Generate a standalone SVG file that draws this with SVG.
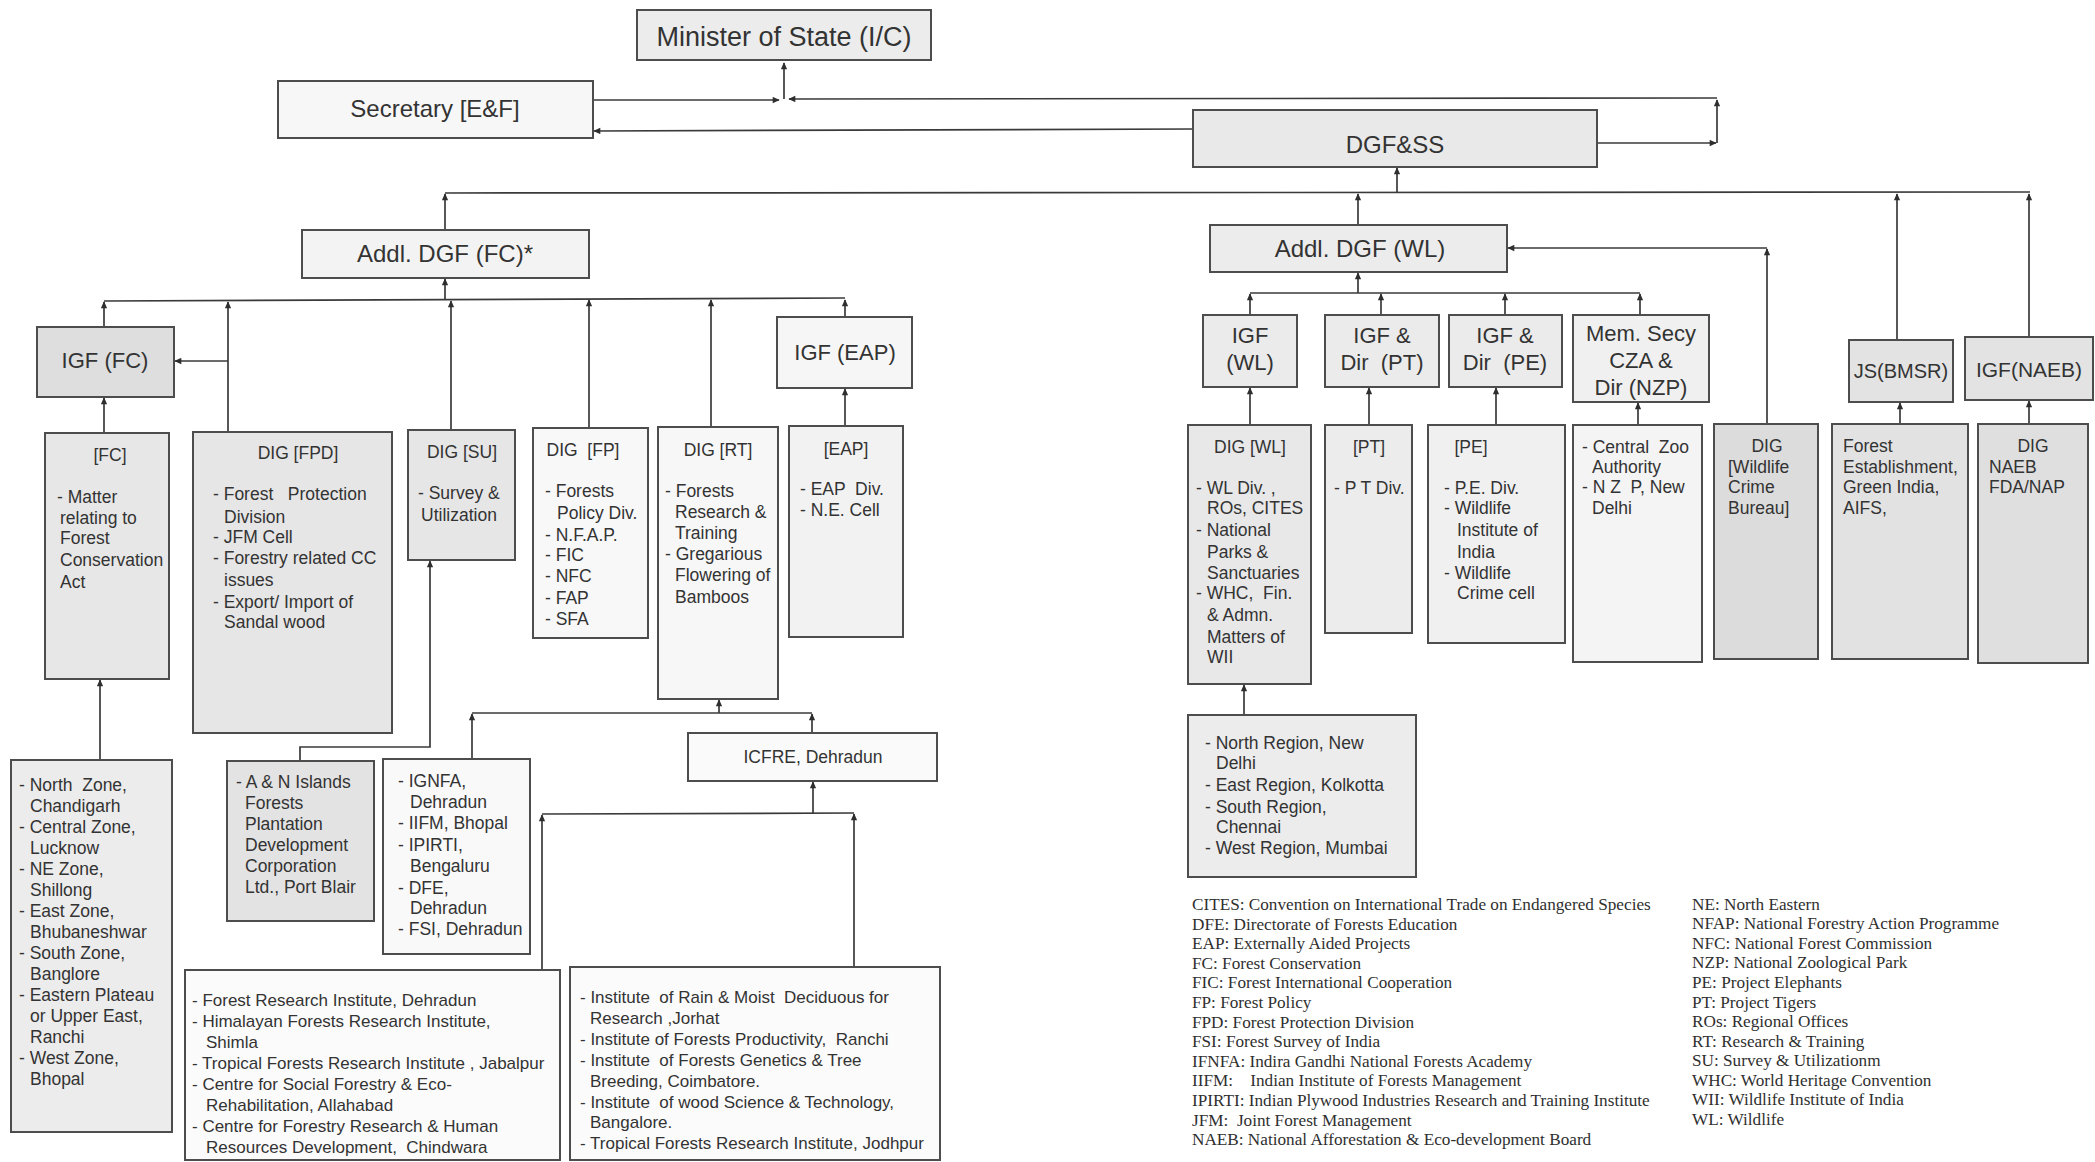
<svg xmlns="http://www.w3.org/2000/svg" width="2095" height="1162" viewBox="0 0 2095 1162">
<defs>
<marker id="ah" viewBox="0 0 10 10" refX="9" refY="5" markerWidth="8" markerHeight="7" markerUnits="userSpaceOnUse" orient="auto"><path d="M0,0.5 L10,5 L0,9.5 z" fill="#2e2e2e"/></marker>
<style>
.bx{stroke:#4d4d4d;stroke-width:2}
.t{font-family:"Liberation Sans",Arial,sans-serif;fill:#333}
.b{font-size:17.5px}
.s{font-size:17px}
.h{font-size:24px}
.m{font-size:22px}
.c{text-anchor:middle}
.cn{fill:none;stroke:#3a3a3a;stroke-width:1.7}
.lg{font-family:"Liberation Serif","Times New Roman",serif;font-size:17.2px;fill:#2f2f2f}
</style>
</defs>
<rect x="0" y="0" width="2095" height="1162" fill="#ffffff"/>

<g id="connectors">
<path class="cn" d="M784,99 L784,63" marker-end="url(#ah)"/>
<path class="cn" d="M593,100 L779,100" marker-end="url(#ah)"/>
<path class="cn" d="M1717,98 L789,99" marker-end="url(#ah)"/>
<path class="cn" d="M1717,143 L1717,100" marker-end="url(#ah)"/>
<path class="cn" d="M1597,143 L1716,143" marker-end="url(#ah)"/>
<path class="cn" d="M1193,129 L594,131" marker-end="url(#ah)"/>
<path class="cn" d="M1397,192 L1397,168" marker-end="url(#ah)"/>
<path class="cn" d="M445,193 L2030,192"/>
<path class="cn" d="M445,230 L445,194" marker-end="url(#ah)"/>
<path class="cn" d="M1358,225 L1358,194" marker-end="url(#ah)"/>
<path class="cn" d="M1897,340 L1897,194" marker-end="url(#ah)"/>
<path class="cn" d="M2029,337 L2029,194" marker-end="url(#ah)"/>
<path class="cn" d="M445,300 L445,279" marker-end="url(#ah)"/>
<path class="cn" d="M104,301 L845,298"/>
<path class="cn" d="M104,327 L104,302" marker-end="url(#ah)"/>
<path class="cn" d="M228,432 L228,302" marker-end="url(#ah)"/>
<path class="cn" d="M228,361 L175,361" marker-end="url(#ah)"/>
<path class="cn" d="M451,430 L451,301" marker-end="url(#ah)"/>
<path class="cn" d="M589,428 L589,300" marker-end="url(#ah)"/>
<path class="cn" d="M711,427 L711,300" marker-end="url(#ah)"/>
<path class="cn" d="M845,317 L845,300" marker-end="url(#ah)"/>
<path class="cn" d="M845,426 L845,389" marker-end="url(#ah)"/>
<path class="cn" d="M104,433 L104,398" marker-end="url(#ah)"/>
<path class="cn" d="M100,760 L100,680" marker-end="url(#ah)"/>
<path class="cn" d="M300,761 L300,747 L430,747 L430,561" marker-end="url(#ah)"/>
<path class="cn" d="M472,759 L472,714" marker-end="url(#ah)"/>
<path class="cn" d="M472,713 L812,713"/>
<path class="cn" d="M719,713 L719,700" marker-end="url(#ah)"/>
<path class="cn" d="M812,733 L812,714" marker-end="url(#ah)"/>
<path class="cn" d="M813,813 L813,782" marker-end="url(#ah)"/>
<path class="cn" d="M542,814 L854,813"/>
<path class="cn" d="M542,970 L542,815" marker-end="url(#ah)"/>
<path class="cn" d="M854,967 L854,814" marker-end="url(#ah)"/>
<path class="cn" d="M1358,293 L1358,273" marker-end="url(#ah)"/>
<path class="cn" d="M1250,293 L1640,293"/>
<path class="cn" d="M1250,315 L1250,294" marker-end="url(#ah)"/>
<path class="cn" d="M1381,315 L1381,294" marker-end="url(#ah)"/>
<path class="cn" d="M1505,315 L1505,294" marker-end="url(#ah)"/>
<path class="cn" d="M1640,315 L1640,294" marker-end="url(#ah)"/>
<path class="cn" d="M1250,425 L1250,388" marker-end="url(#ah)"/>
<path class="cn" d="M1369,425 L1369,388" marker-end="url(#ah)"/>
<path class="cn" d="M1496,425 L1496,388" marker-end="url(#ah)"/>
<path class="cn" d="M1638,425 L1638,403" marker-end="url(#ah)"/>
<path class="cn" d="M1767,424 L1767,249" marker-end="url(#ah)"/>
<path class="cn" d="M1767,248 L1508,248" marker-end="url(#ah)"/>
<path class="cn" d="M1900,424 L1900,403" marker-end="url(#ah)"/>
<path class="cn" d="M2029,424 L2029,401" marker-end="url(#ah)"/>
<path class="cn" d="M1244,715 L1244,685" marker-end="url(#ah)"/>
</g>

<g id="minister">
<rect class="bx" x="637" y="10" width="294" height="50" fill="#ececec"/>
<text class="t c" x="784" y="46" font-size="27">Minister of State (I/C)</text>
</g>
<g id="secretary">
<rect class="bx" x="278" y="81" width="315" height="57" fill="#f7f7f7"/>
<text class="t c h" x="435" y="117">Secretary [E&amp;F]</text>
</g>
<g id="dgfss">
<rect class="bx" x="1193" y="110" width="404" height="57" fill="#e9e9e9"/>
<text class="t c h" x="1395" y="153">DGF&amp;SS</text>
</g>
<g id="addl-dgf-fc">
<rect class="bx" x="302" y="230" width="287" height="48" fill="#f3f3f3"/>
<text class="t c h" x="445" y="262">Addl. DGF (FC)*</text>
</g>
<g id="igf-fc">
<rect class="bx" x="37" y="327" width="137" height="70" fill="#dedede"/>
<text class="t c m" x="105" y="368">IGF (FC)</text>
</g>
<g id="igf-eap">
<rect class="bx" x="777" y="317" width="135" height="71" fill="#f6f6f6"/>
<text class="t c m" x="845" y="360">IGF (EAP)</text>
</g>
<g id="fc">
<rect class="bx" x="45" y="433" width="124" height="246" fill="#e7e7e7"/>
<text class="t c b" x="110" y="461">[FC]</text>
<text class="t b" x="57" y="503">- Matter</text>
<text class="t b" x="60" y="524">relating to</text>
<text class="t b" x="60" y="544">Forest</text>
<text class="t b" x="60" y="566">Conservation</text>
<text class="t b" x="60" y="588">Act</text>
</g>
<g id="dig-fpd">
<rect class="bx" x="193" y="432" width="199" height="301" fill="#e6e6e6"/>
<text class="t c b" x="298" y="459">DIG [FPD]</text>
<text class="t b" x="213" y="500" xml:space="preserve">- Forest   Protection</text>
<text class="t b" x="224" y="523">Division</text>
<text class="t b" x="213" y="543">- JFM Cell</text>
<text class="t b" x="213" y="564">- Forestry related CC</text>
<text class="t b" x="224" y="586">issues</text>
<text class="t b" x="213" y="608">- Export/ Import of</text>
<text class="t b" x="224" y="628">Sandal wood</text>
</g>
<g id="dig-su">
<rect class="bx" x="408" y="430" width="107" height="130" fill="#e6e6e6"/>
<text class="t c b" x="462" y="458">DIG [SU]</text>
<text class="t b" x="418" y="499">- Survey &amp;</text>
<text class="t b" x="421" y="521">Utilization</text>
</g>
<g id="dig-fp">
<rect class="bx" x="533" y="428" width="115" height="210" fill="#f8f8f8"/>
<text class="t c b" x="583" y="456" xml:space="preserve">DIG  [FP]</text>
<text class="t b" x="545" y="497">- Forests</text>
<text class="t b" x="557" y="519">Policy Div.</text>
<text class="t b" x="545" y="541">- N.F.A.P.</text>
<text class="t b" x="545" y="561">- FIC</text>
<text class="t b" x="545" y="582">- NFC</text>
<text class="t b" x="545" y="604">- FAP</text>
<text class="t b" x="545" y="625">- SFA</text>
</g>
<g id="dig-rt">
<rect class="bx" x="658" y="427" width="120" height="272" fill="#f7f7f7"/>
<text class="t c b" x="718" y="456">DIG [RT]</text>
<text class="t b" x="665" y="497">- Forests</text>
<text class="t b" x="675" y="518">Research &amp;</text>
<text class="t b" x="675" y="539">Training</text>
<text class="t b" x="665" y="560">- Gregarious</text>
<text class="t b" x="675" y="581">Flowering of</text>
<text class="t b" x="675" y="603">Bamboos</text>
</g>
<g id="eap">
<rect class="bx" x="789" y="426" width="114" height="211" fill="#f2f2f2"/>
<text class="t c b" x="846" y="455">[EAP]</text>
<text class="t b" x="800" y="495" xml:space="preserve">- EAP  Div.</text>
<text class="t b" x="800" y="516">- N.E. Cell</text>
</g>
<g id="zones">
<rect class="bx" x="11" y="760" width="161" height="372" fill="#ececec"/>
<text class="t b" x="19" y="791" xml:space="preserve">- North  Zone,</text>
<text class="t b" x="30" y="812">Chandigarh</text>
<text class="t b" x="19" y="833">- Central Zone,</text>
<text class="t b" x="30" y="854">Lucknow</text>
<text class="t b" x="19" y="875">- NE Zone,</text>
<text class="t b" x="30" y="896">Shillong</text>
<text class="t b" x="19" y="917">- East Zone,</text>
<text class="t b" x="30" y="938">Bhubaneshwar</text>
<text class="t b" x="19" y="959">- South Zone,</text>
<text class="t b" x="30" y="980">Banglore</text>
<text class="t b" x="19" y="1001">- Eastern Plateau</text>
<text class="t b" x="30" y="1022">or Upper East,</text>
<text class="t b" x="30" y="1043">Ranchi</text>
<text class="t b" x="19" y="1064">- West Zone,</text>
<text class="t b" x="30" y="1085">Bhopal</text>
</g>
<g id="an-islands">
<rect class="bx" x="227" y="761" width="147" height="160" fill="#e3e3e3"/>
<text class="t b" x="236" y="788">- A &amp; N Islands</text>
<text class="t b" x="245" y="809">Forests</text>
<text class="t b" x="245" y="830">Plantation</text>
<text class="t b" x="245" y="851">Development</text>
<text class="t b" x="245" y="872">Corporation</text>
<text class="t b" x="245" y="893">Ltd., Port Blair</text>
</g>
<g id="ignfa">
<rect class="bx" x="383" y="759" width="147" height="195" fill="#f9f9f9"/>
<text class="t b" x="398" y="787">- IGNFA,</text>
<text class="t b" x="410" y="808">Dehradun</text>
<text class="t b" x="398" y="829">- IIFM, Bhopal</text>
<text class="t b" x="398" y="851">- IPIRTI,</text>
<text class="t b" x="410" y="872">Bengaluru</text>
<text class="t b" x="398" y="894">- DFE,</text>
<text class="t b" x="410" y="914">Dehradun</text>
<text class="t b" x="398" y="935">- FSI, Dehradun</text>
</g>
<g id="icfre">
<rect class="bx" x="688" y="733" width="249" height="48" fill="#fafafa"/>
<text class="t c b" x="813" y="763">ICFRE, Dehradun</text>
</g>
<g id="icfre-institutes-1">
<rect class="bx" x="185" y="970" width="375" height="190" fill="#fbfbfb"/>
<text class="t s" x="192" y="1006">- Forest Research Institute, Dehradun</text>
<text class="t s" x="192" y="1027">- Himalayan Forests Research Institute,</text>
<text class="t s" x="206" y="1048">Shimla</text>
<text class="t s" x="192" y="1069">- Tropical Forests Research Institute , Jabalpur</text>
<text class="t s" x="192" y="1090">- Centre for Social Forestry &amp; Eco-</text>
<text class="t s" x="206" y="1111">Rehabilitation, Allahabad</text>
<text class="t s" x="192" y="1132">- Centre for Forestry Research &amp; Human</text>
<text class="t s" x="206" y="1153" xml:space="preserve">Resources Development,  Chindwara</text>
</g>
<g id="icfre-institutes-2">
<rect class="bx" x="570" y="967" width="370" height="193" fill="#fbfbfb"/>
<text class="t s" x="580" y="1003" xml:space="preserve">- Institute  of Rain &amp; Moist  Deciduous for</text>
<text class="t s" x="590" y="1024">Research ,Jorhat</text>
<text class="t s" x="580" y="1045" xml:space="preserve">- Institute of Forests Productivity,  Ranchi</text>
<text class="t s" x="580" y="1066" xml:space="preserve">- Institute  of Forests Genetics &amp; Tree</text>
<text class="t s" x="590" y="1087">Breeding, Coimbatore.</text>
<text class="t s" x="580" y="1108" xml:space="preserve">- Institute  of wood Science &amp; Technology,</text>
<text class="t s" x="590" y="1128">Bangalore.</text>
<text class="t s" x="580" y="1149">- Tropical Forests Research Institute, Jodhpur</text>
</g>

<g id="addl-dgf-wl">
<rect class="bx" x="1210" y="225" width="297" height="47" fill="#ececec"/>
<text class="t c h" x="1360" y="257">Addl. DGF (WL)</text>
</g>
<g id="igf-wl">
<rect class="bx" x="1203" y="315" width="94" height="72" fill="#ebebeb"/>
<text class="t c m" x="1250" y="343">IGF</text>
<text class="t c m" x="1250" y="370">(WL)</text>
</g>
<g id="igf-pt">
<rect class="bx" x="1325" y="315" width="114" height="72" fill="#ebebeb"/>
<text class="t c m" x="1382" y="343">IGF &amp;</text>
<text class="t c m" x="1382" y="370" xml:space="preserve">Dir  (PT)</text>
</g>
<g id="igf-pe">
<rect class="bx" x="1449" y="315" width="113" height="72" fill="#ebebeb"/>
<text class="t c m" x="1505" y="343">IGF &amp;</text>
<text class="t c m" x="1505" y="370" xml:space="preserve">Dir  (PE)</text>
</g>
<g id="mem-secy">
<rect class="bx" x="1573" y="315" width="136" height="87" fill="#f0f0f0"/>
<text class="t c m" x="1641" y="341">Mem. Secy</text>
<text class="t c m" x="1641" y="368">CZA &amp;</text>
<text class="t c m" x="1641" y="395">Dir (NZP)</text>
</g>
<g id="js-bmsr">
<rect class="bx" x="1849" y="340" width="104" height="62" fill="#e3e3e3"/>
<text class="t c" x="1901" y="378" font-size="20">JS(BMSR)</text>
</g>
<g id="igf-naeb">
<rect class="bx" x="1965" y="337" width="128" height="63" fill="#e3e3e3"/>
<text class="t c" x="2029" y="377" font-size="21">IGF(NAEB)</text>
</g>
<g id="dig-wl">
<rect class="bx" x="1188" y="425" width="123" height="259" fill="#e8e8e8"/>
<text class="t c b" x="1250" y="453">DIG [WL]</text>
<text class="t b" x="1196" y="494">- WL Div. ,</text>
<text class="t b" x="1207" y="514">ROs, CITES</text>
<text class="t b" x="1196" y="536">- National</text>
<text class="t b" x="1207" y="558">Parks &amp;</text>
<text class="t b" x="1207" y="579">Sanctuaries</text>
<text class="t b" x="1196" y="599" xml:space="preserve">- WHC,  Fin.</text>
<text class="t b" x="1207" y="621">&amp; Admn.</text>
<text class="t b" x="1207" y="643">Matters of</text>
<text class="t b" x="1207" y="663">WII</text>
</g>
<g id="regions">
<rect class="bx" x="1188" y="715" width="228" height="162" fill="#ececec"/>
<text class="t b" x="1205" y="749">- North Region, New</text>
<text class="t b" x="1216" y="769">Delhi</text>
<text class="t b" x="1205" y="791">- East Region, Kolkotta</text>
<text class="t b" x="1205" y="813">- South Region,</text>
<text class="t b" x="1216" y="833">Chennai</text>
<text class="t b" x="1205" y="854">- West Region, Mumbai</text>
</g>
<g id="pt">
<rect class="bx" x="1325" y="425" width="87" height="208" fill="#ececec"/>
<text class="t c b" x="1369" y="453">[PT]</text>
<text class="t b" x="1334" y="494">- P T Div.</text>
</g>
<g id="pe">
<rect class="bx" x="1428" y="425" width="137" height="218" fill="#f0f0f0"/>
<text class="t c b" x="1471" y="453">[PE]</text>
<text class="t b" x="1444" y="494">- P.E. Div.</text>
<text class="t b" x="1444" y="514">- Wildlife</text>
<text class="t b" x="1457" y="536">Institute of</text>
<text class="t b" x="1457" y="558">India</text>
<text class="t b" x="1444" y="579">- Wildlife</text>
<text class="t b" x="1457" y="599">Crime cell</text>
</g>
<g id="cza">
<rect class="bx" x="1573" y="425" width="129" height="237" fill="#f4f4f4"/>
<text class="t b" x="1582" y="453" xml:space="preserve">- Central  Zoo</text>
<text class="t b" x="1592" y="473">Authority</text>
<text class="t b" x="1582" y="493" xml:space="preserve">- N Z  P, New</text>
<text class="t b" x="1592" y="514">Delhi</text>
</g>
<g id="wccb">
<rect class="bx" x="1714" y="424" width="104" height="235" fill="#dcdcdc"/>
<text class="t c b" x="1767" y="452">DIG</text>
<text class="t b" x="1728" y="473">[Wildlife</text>
<text class="t b" x="1728" y="493">Crime</text>
<text class="t b" x="1728" y="514">Bureau]</text>
</g>
<g id="forest-establishment">
<rect class="bx" x="1832" y="424" width="136" height="235" fill="#e2e2e2"/>
<text class="t b" x="1843" y="452">Forest</text>
<text class="t b" x="1843" y="473">Establishment,</text>
<text class="t b" x="1843" y="493">Green India,</text>
<text class="t b" x="1843" y="514">AIFS,</text>
</g>
<g id="dig-naeb">
<rect class="bx" x="1978" y="424" width="110" height="239" fill="#dfdfdf"/>
<text class="t c b" x="2033" y="452">DIG</text>
<text class="t b" x="1989" y="473">NAEB</text>
<text class="t b" x="1989" y="493">FDA/NAP</text>
</g>

<g id="legend">
<text class="lg" x="1192" y="910">CITES: Convention on International Trade on Endangered Species</text>
<text class="lg" x="1192" y="930">DFE: Directorate of Forests Education</text>
<text class="lg" x="1192" y="949">EAP: Externally Aided Projects</text>
<text class="lg" x="1192" y="969">FC: Forest Conservation</text>
<text class="lg" x="1192" y="988">FIC: Forest International Cooperation</text>
<text class="lg" x="1192" y="1008">FP: Forest Policy</text>
<text class="lg" x="1192" y="1028">FPD: Forest Protection Division</text>
<text class="lg" x="1192" y="1047">FSI: Forest Survey of India</text>
<text class="lg" x="1192" y="1067">IFNFA: Indira Gandhi National Forests Academy</text>
<text class="lg" x="1192" y="1086" xml:space="preserve">IIFM:    Indian Institute of Forests Management</text>
<text class="lg" x="1192" y="1106">IPIRTI: Indian Plywood Industries Research and Training Institute</text>
<text class="lg" x="1192" y="1126" xml:space="preserve">JFM:  Joint Forest Management</text>
<text class="lg" x="1192" y="1145">NAEB: National Afforestation &amp; Eco-development Board</text>
<text class="lg" x="1692" y="910">NE: North Eastern</text>
<text class="lg" x="1692" y="929">NFAP: National Forestry Action Programme</text>
<text class="lg" x="1692" y="949">NFC: National Forest Commission</text>
<text class="lg" x="1692" y="968">NZP: National Zoological Park</text>
<text class="lg" x="1692" y="988">PE: Project Elephants</text>
<text class="lg" x="1692" y="1008">PT: Project Tigers</text>
<text class="lg" x="1692" y="1027">ROs: Regional Offices</text>
<text class="lg" x="1692" y="1047">RT: Research &amp; Training</text>
<text class="lg" x="1692" y="1066">SU: Survey &amp; Utilizationm</text>
<text class="lg" x="1692" y="1086">WHC: World Heritage Convention</text>
<text class="lg" x="1692" y="1105">WII: Wildlife Institute of India</text>
<text class="lg" x="1692" y="1125">WL: Wildlife</text>
</g>
</svg>
